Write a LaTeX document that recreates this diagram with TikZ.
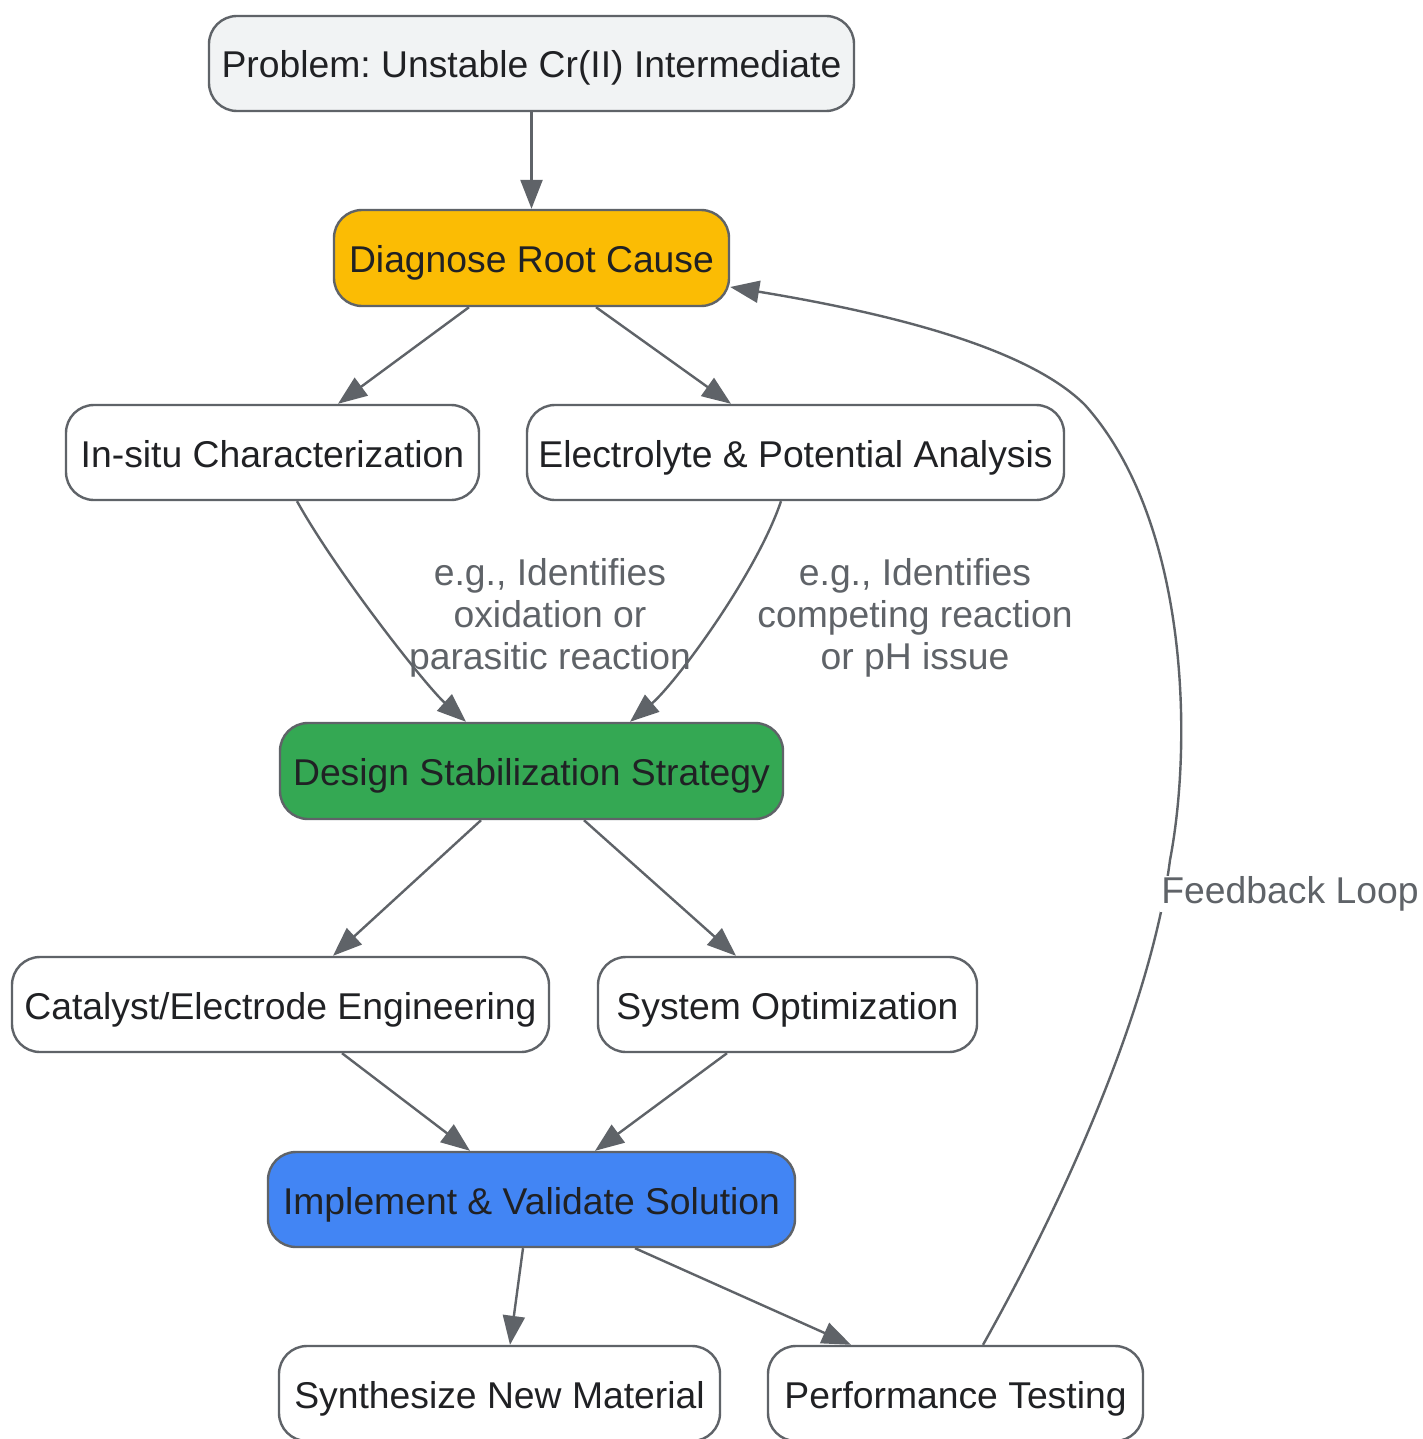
\documentclass[tikz,border=0pt]{standalone}
\usepackage{fontspec}
\setmainfont{Liberation Sans}
\usetikzlibrary{arrows.meta}
\frenchspacing
\definecolor{edgegray}{HTML}{5F6368}
\definecolor{txtdark}{HTML}{202124}
\definecolor{probfill}{HTML}{F1F3F4}
\definecolor{diagfill}{HTML}{FBBC04}
\definecolor{desfill}{HTML}{34A853}
\definecolor{implfill}{HTML}{4285F4}
\tikzset{
  box/.style={draw=edgegray, line width=2.4pt, rounded corners=28pt, fill=white,
    inner sep=0pt, align=center, text=txtdark, text height=36pt, text depth=7pt,
    font=\fontsize{37.3}{42}\selectfont\frenchspacing},
  conn/.style={draw=edgegray, line width=2.4pt, -{Triangle[length=29pt,width=22pt]}},
  elabel/.style={text=edgegray, align=center, font=\fontsize{37.3}{42}\selectfont\frenchspacing, inner sep=0pt}
}
\begin{document}
\begin{tikzpicture}[x=1pt,y=-1pt]
\useasboundingbox (0,0) rectangle (1422,1439);
\fill[white] (0,0) rectangle (1422,1439);

\node[box, fill=probfill, minimum width=645pt, minimum height=95pt] (prob) at (531.5,63.5) {Problem: Unstable Cr(II) Intermediate};
\node[box, fill=diagfill, minimum width=395pt, minimum height=96pt] (diag) at (531.5,258) {Diagnose Root Cause};
\node[box, minimum width=413pt, minimum height=95pt] (insitu) at (272.5,452.5) {In-situ Characterization};
\node[box, minimum width=537pt, minimum height=95pt] (elec) at (795.5,452.5) {Electrolyte \& Potential Analysis};
\node[box, fill=desfill, minimum width=503pt, minimum height=96pt] (design) at (531.5,771) {Design Stabilization Strategy};
\node[box, minimum width=537pt, minimum height=95pt] (cat) at (280.5,1004.5) {Catalyst/Electrode Engineering};
\node[box, minimum width=379pt, minimum height=95pt] (sys) at (787.5,1004.5) {System Optimization};
\node[box, fill=implfill, minimum width=527pt, minimum height=95pt] (impl) at (531.5,1199.5) {Implement \& Validate Solution};
\node[box, minimum width=441pt, minimum height=95pt] (synth) at (499.5,1393.5) {Synthesize New Material};
\node[box, minimum width=375pt, minimum height=95pt] (perf) at (955.5,1393.5) {Performance Testing};

\draw[conn] (prob.south) -- (diag.north);
\draw[conn] ([xshift=-62.5pt]diag.south) -- ([xshift=65.5pt]insitu.north);
\draw[conn] ([xshift=64.5pt]diag.south) -- ([xshift=-64.5pt]elec.north);

\draw[conn] ([xshift=24.5pt]insitu.south) .. controls (337,573) and (426,686) .. ([xshift=-65.5pt]design.north);
\draw[conn] ([xshift=-14.5pt]elec.south) .. controls (756,575) and (675,684) .. ([xshift=98.5pt]design.north);

\node[elabel] (lab1) at (550,618) {e.g., Identifies\\oxidation or\\parasitic reaction};
\node[elabel] (lab2) at (915,618) {e.g., Identifies\\competing reaction\\or pH issue};

\draw[conn] ([xshift=-50.5pt]design.south) -- ([xshift=52.5pt]cat.north);
\draw[conn] ([xshift=52.5pt]design.south) -- ([xshift=-51.5pt]sys.north);
\draw[conn] ([xshift=61.5pt]cat.south) -- ([xshift=-61.5pt]impl.north);
\draw[conn] ([xshift=-60.5pt]sys.south) -- ([xshift=63.5pt]impl.north);
\draw[conn] ([xshift=-8.5pt]impl.south) -- ([xshift=10.5pt]synth.north);
\draw[conn] ([xshift=103.5pt]impl.south) -- ([xshift=-104.5pt]perf.north);

\coordinate (fb1) at (1170,860);
\coordinate (fb2) at (1085,405);
\draw[conn] ([xshift=27.5pt]perf.north) .. controls (1070,1190) and (1152,1000) .. (fb1)
  .. controls (1193,740) and (1188,520) .. (fb2)
  .. controls (1030,350) and (900,315) .. ([yshift=-29pt]diag.east);
\node[elabel, fill=white, inner sep=1pt] (lab3) at (1290,894) {Feedback Loop};
\end{tikzpicture}
\end{document}
